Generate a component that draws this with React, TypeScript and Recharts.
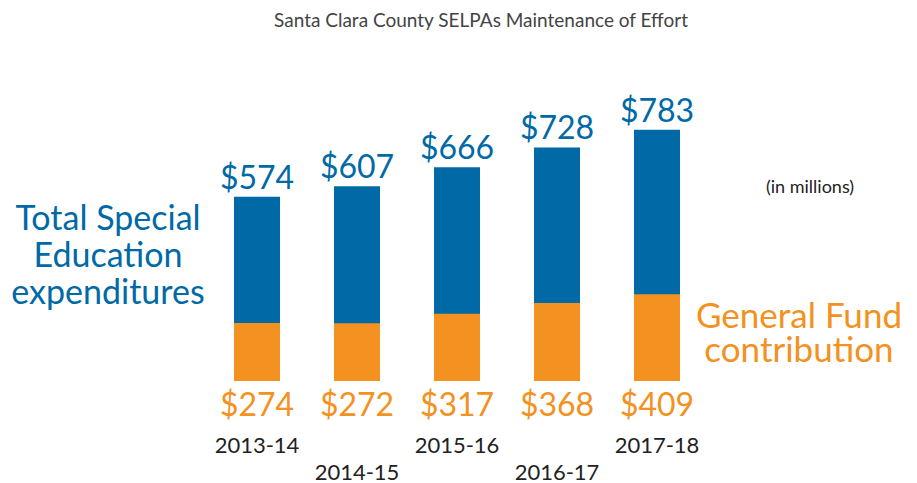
import React from "react";
import { Bar, BarChart, LabelList, XAxis, YAxis } from "recharts";

const years = ["2013-14", "2014-15", "2015-16", "2016-17", "2017-18"];
const totalSpending = [574, 607, 666, 728, 783];
const generalFund = [274, 272, 317, 368, 409];

const BLUE = "#0069A6";
const ORANGE = "#F39121";
const FONT = "Lato, 'Open Sans', sans-serif";

const data = years.map((year, i) => ({
  year,
  total: totalSpending[i],
  fund: generalFund[i],
}));

const YearTick = ({ x, y, index, payload }: any) => (
  <text
    x={x}
    y={y + (index % 2 === 0 ? 72 : 99)}
    textAnchor="middle"
    fontSize={22}
    fontFamily={FONT}
    fill="#222"
  >
    {payload.value}
  </text>
);

const TotalLabel = ({ x, y, width, value }: any) => (
  <text
    x={x + width / 2}
    y={y - 8}
    textAnchor="middle"
    fontSize={32}
    fontFamily={FONT}
    fill={BLUE}
  >
    ${value}
  </text>
);

const FundLabel = ({ x, y, width, height, value }: any) => (
  <text
    x={x + width / 2}
    y={y + height + 35}
    textAnchor="middle"
    fontSize={32}
    fontFamily={FONT}
    fill={ORANGE}
  >
    ${value}
  </text>
);

export default function App() {
  return (
    <div style={{ position: "absolute", left: 0, top: 0, width: 917, height: 483 }}>
      <BarChart
        width={917}
        height={483}
        data={data}
        margin={{ top: 81, right: 210, bottom: 72, left: 207 }}
        barGap={-46}
        barSize={46}
      >
        <XAxis
          dataKey="year"
          axisLine={false}
          tickLine={false}
          tickSize={0}
          tickMargin={0}
          height={30}
          interval={0}
          tick={<YearTick />}
        />
        <YAxis yAxisId="total" hide domain={[0, 935]} />
        <YAxis yAxisId="fund" hide domain={[0, 1415]} />
        <Bar yAxisId="total" dataKey="total" fill={BLUE} isAnimationActive={false}>
          <LabelList dataKey="total" content={<TotalLabel />} />
        </Bar>
        <Bar yAxisId="fund" dataKey="fund" fill={ORANGE} isAnimationActive={false}>
          <LabelList dataKey="fund" content={<FundLabel />} />
        </Bar>
      </BarChart>
      <svg
        width={917}
        height={483}
        style={{ position: "absolute", left: 0, top: 0, pointerEvents: "none" }}
        fontFamily={FONT}
      >
        <text x={481} y={27} textAnchor="middle" fontSize={19} fill="#444">
          Santa Clara County SELPAs Maintenance of Effort
        </text>
        <text textAnchor="middle" fontSize={34} fill={BLUE}>
          <tspan x={108} y={230}>Total Special</tspan>
          <tspan x={108} y={267}>Education</tspan>
          <tspan x={108} y={304}>expenditures</tspan>
        </text>
        <text x={810} y={193} textAnchor="middle" fontSize={18} fill="#222">
          (in millions)
        </text>
        <text textAnchor="middle" fontSize={35} fill={ORANGE}>
          <tspan x={799} y={328}>General Fund</tspan>
          <tspan x={799} y={362}>contribution</tspan>
        </text>
      </svg>
    </div>
  );
}
